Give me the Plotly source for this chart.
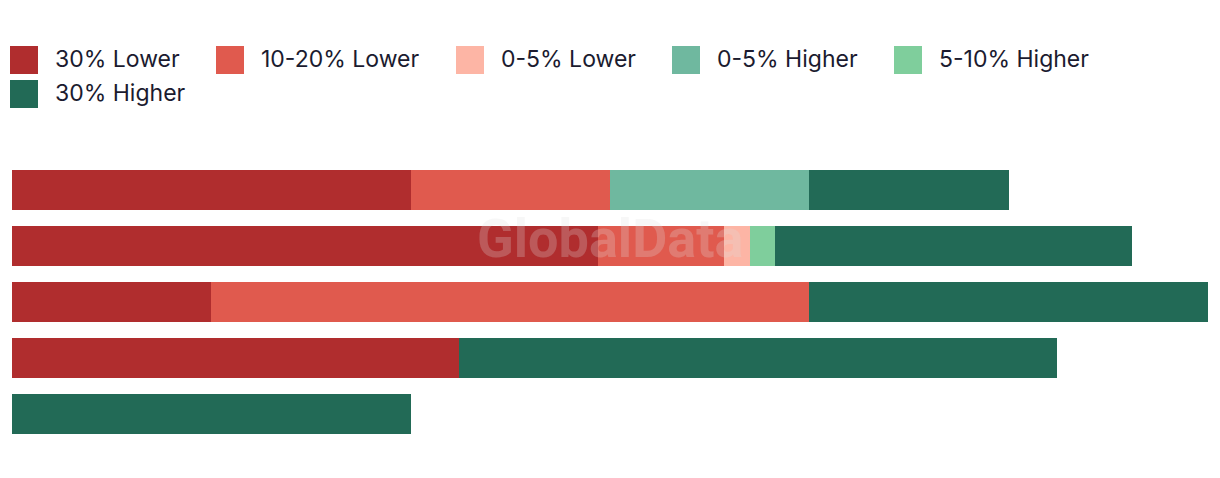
import plotly.graph_objects as go

# ---- data ----
categories = ["1", "2", "3", "4", "5"]
series_names = ["30% Lower", "10-20% Lower", "0-5% Lower", "0-5% Higher", "5-10% Higher", "30% Higher"]
lower_30 = [2.0, 2.94, 1.0, 2.24, 0]
lower_10_20 = [1.0, 0.63, 3.0, 0, 0]
lower_0_5 = [0, 0.13, 0, 0, 0]
higher_0_5 = [1.0, 0, 0, 0, 0]
higher_5_10 = [0, 0.13, 0, 0, 0]
higher_30 = [1.0, 1.79, 2.0, 3.0, 2.0]

series_values = [lower_30, lower_10_20, lower_0_5, higher_0_5, higher_5_10, higher_30]
colors = ["#b02d2e", "#e05a4e", "#fdb5a5", "#6fb89f", "#7fce9c", "#226a56"]

W, H = 1220, 478
ML, MR, MT, MB = 12, 12, 162, 36
PW, PH = W - ML - MR, H - MT - MB

fig = go.Figure()
for name, vals, col in zip(series_names, series_values, colors):
    fig.add_trace(go.Bar(
        y=categories, x=vals, name=name, orientation="h",
        marker=dict(color=col, line=dict(width=0)),
        showlegend=False,
    ))

# ---- custom legend (large square swatches) ----
def px_to_paper(px, py):
    return (px - ML) / PW, (H - MB - py) / PH

legend_pos = [(10, 46), (216, 46), (456, 46), (672, 46), (894, 46), (10, 80)]
SW = 28
shapes = []
annotations = []
for (lx, ly), name, col in zip(legend_pos, series_names, colors):
    x0, y1 = px_to_paper(lx, ly)
    x1, y0 = px_to_paper(lx + SW, ly + SW)
    shapes.append(dict(type="rect", xref="paper", yref="paper",
                       x0=x0, x1=x1, y0=y0, y1=y1,
                       fillcolor=col, line=dict(width=0)))
    tx, ty = px_to_paper(lx + 43, ly + SW / 2 - 1.5)
    annotations.append(dict(text=name, xref="paper", yref="paper",
                            x=tx, y=ty, xanchor="left", yanchor="middle",
                            showarrow=False,
                            font=dict(family="Inter, Roboto, sans-serif", size=23, color="#1b1b2f")))

# watermark
wx, wy = px_to_paper(610, 238)
annotations.append(dict(text="<b>GlobalData</b>", xref="paper", yref="paper",
                        x=wx, y=wy, xanchor="center", yanchor="middle",
                        showarrow=False,
                        font=dict(family="Roboto, Inter, sans-serif", size=54,
                                  color="rgba(225,225,225,0.25)")))

fig.update_layout(
    barmode="stack",
    width=W, height=H,
    margin=dict(l=ML, r=MR, t=MT, b=MB, pad=0),
    paper_bgcolor="white", plot_bgcolor="white",
    bargap=16 / 56,
    xaxis=dict(range=[0, 6], visible=False, fixedrange=True),
    yaxis=dict(categoryorder="array", categoryarray=categories, autorange="reversed",
               visible=False, fixedrange=True),
    shapes=shapes,
    annotations=annotations,
    showlegend=False,
)

fig.write_html("out.html")
